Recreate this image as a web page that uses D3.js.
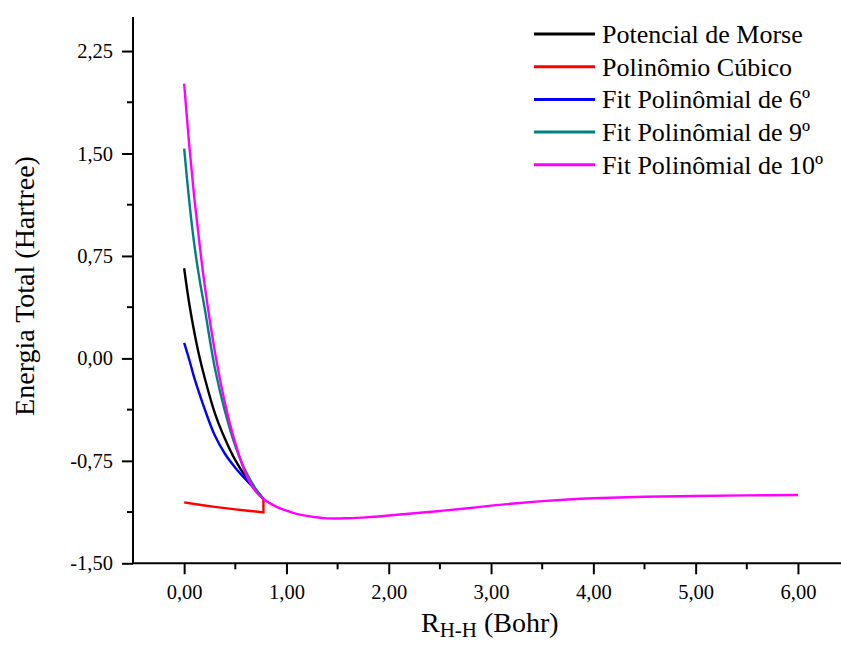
<!DOCTYPE html>
<html>
<head>
<meta charset="utf-8">
<script src="https://cdn.jsdelivr.net/npm/d3@7/dist/d3.min.js"></script>
<style>
  html, body { margin: 0; padding: 0; background: #fff; }
  svg { display: block; }
  text { font-family: "Liberation Serif", "Times New Roman", serif; fill: #000; }
</style>
</head>
<body>
<svg id="chart" width="841" height="646"></svg>
<script>
// Internuclear distance grid (Bohr) for the short-range curves
const rShort = [0, 0.05, 0.1, 0.15, 0.2, 0.3, 0.4, 0.5, 0.6, 0.7, 0.775];

// Potencial de Morse (Hartree)
const morse = [0.66, 0.40, 0.19, 0.01, -0.14, -0.40, -0.59, -0.745, -0.865, -0.96, -1.029];
// Fit polinomial de 6º grau
const fit6 = [0.113, -0.01, -0.145, -0.26, -0.37, -0.565, -0.70, -0.80, -0.885, -0.965, -1.029];
// Fit polinomial de 9º grau
const fit9 = [1.535, 1.15, 0.83, 0.58, 0.37, -0.07, -0.39, -0.64, -0.825, -0.955, -1.029];

// Polinômio cúbico (ends with a jump back to the junction point)
const rCubic = [0, 0.1, 0.2, 0.3, 0.4, 0.5, 0.6, 0.7, 0.775, 0.775];
const cubic = [-1.054, -1.066, -1.077, -1.087, -1.096, -1.105, -1.113, -1.121, -1.127, -1.029];

// Fit polinomial de 10º grau over the full range
const rFull = [0, 0.05, 0.1, 0.15, 0.2, 0.3, 0.4, 0.5, 0.6, 0.7, 0.775, 0.85, 0.9, 1.0, 1.1, 1.2,
               1.4, 1.6, 1.8, 2.0, 2.25, 2.5, 2.75, 3.0, 3.25, 3.5, 3.75, 4.0, 4.5, 5.0, 5.5, 6.0];
const fit10 = [2.011, 1.56, 1.17, 0.84, 0.54, 0.05, -0.33, -0.62, -0.84, -0.975, -1.029, -1.065, -1.085,
               -1.115, -1.138, -1.153, -1.171, -1.170, -1.162, -1.150, -1.134, -1.117, -1.099, -1.078,
               -1.060, -1.045, -1.033, -1.024, -1.013, -1.007, -1.003, -1.0];

const xTicks = [0, 1, 2, 3, 4, 5, 6];
const yTicks = [-1.5, -0.75, 0, 0.75, 1.5, 2.25];
const xTitleMain = "R";
const xTitleSub = "H-H";
const xTitleRest = " (Bohr)";
const yTitle = "Energia Total (Hartree)";

const seriesNames = ["Potencial de Morse", "Polinômio Cúbico", "Fit Polinômial de 6º",
                     "Fit Polinômial de 9º", "Fit Polinômial de 10º"];
const seriesColors = ["#000000", "#ff0000", "#0000ff", "#008080", "#ff00ff"];

const svg = d3.select("#chart");

const x = d3.scaleLinear().domain([-0.5, 6.5]).range([133, 849.1]);
const y = d3.scaleLinear().domain([-1.5, 2.5]).range([563.3, 16.9]);

// Decimal comma and a plain hyphen for negatives
const fmt = v => d3.format(".2f")(v).replace(".", ",").replace("\u2212", "-");

// Curves
const series = [
  { r: rShort, e: morse, color: seriesColors[0] },
  { r: rCubic, e: cubic, color: seriesColors[1], linear: true },
  { r: rShort, e: fit6, color: seriesColors[2] },
  { r: rShort, e: fit9, color: seriesColors[3] },
  { r: rFull, e: fit10, color: seriesColors[4] }
];

const plot = svg.append("g");
series.forEach(s => {
  const pts = s.r.map((r, i) => [r, s.e[i]]);
  const line = d3.line()
    .x(d => x(d[0]))
    .y(d => y(d[1]))
    .curve(s.linear ? d3.curveLinear : d3.curveCatmullRom.alpha(0.5));
  plot.append("path")
    .attr("d", line(pts))
    .attr("fill", "none")
    .attr("stroke", s.color)
    .attr("stroke-width", 2.4)
    .attr("stroke-linejoin", "miter");
});

// Axes
const xAxis = d3.axisBottom(x).tickValues(xTicks).tickFormat(fmt).tickSize(11).tickPadding(10);
const yAxis = d3.axisLeft(y).tickValues(yTicks).tickFormat(fmt).tickSize(11).tickPadding(9);

const gx = svg.append("g").attr("transform", `translate(0,${y(-1.5)})`).call(xAxis);
const gy = svg.append("g").attr("transform", `translate(${x(-0.5)},0)`).call(yAxis);

[gx, gy].forEach(g => {
  g.select(".domain").attr("stroke", "#000").attr("stroke-width", 2);
  g.selectAll(".tick line").attr("stroke", "#000").attr("stroke-width", 2);
  g.selectAll(".tick text")
    .attr("font-family", "Liberation Serif, Times New Roman, serif")
    .attr("font-size", 20.5)
    .attr("fill", "#000");
});
gx.select(".domain").attr("d", `M${x(-0.5)},0H${x(6.5)}`);
gy.select(".domain").attr("d", `M0,${y(-1.5)}V${y(2.5)}`);

// Minor ticks
const xMinor = d3.range(-0.5, 6.51, 0.5).filter(v => !xTicks.includes(v) && v > -0.5);
const yMinor = d3.range(-1.125, 2.5, 0.75);
svg.append("g").selectAll("line").data(xMinor).join("line")
  .attr("x1", d => x(d)).attr("x2", d => x(d))
  .attr("y1", y(-1.5)).attr("y2", y(-1.5) + 6)
  .attr("stroke", "#000").attr("stroke-width", 2);
svg.append("g").selectAll("line").data(yMinor).join("line")
  .attr("x1", x(-0.5)).attr("x2", x(-0.5) - 6)
  .attr("y1", d => y(d)).attr("y2", d => y(d))
  .attr("stroke", "#000").attr("stroke-width", 2);

// Axis titles
svg.append("text")
  .attr("transform", "translate(34,286) rotate(-90)")
  .attr("text-anchor", "middle")
  .attr("font-size", 28)
  .text(yTitle);

const xt = svg.append("text")
  .attr("x", 421).attr("y", 632)
  .attr("font-size", 28);
xt.append("tspan").text(xTitleMain);
xt.append("tspan").attr("font-size", 21).attr("dy", 5).text(xTitleSub);
xt.append("tspan").attr("dy", -5).text(xTitleRest);

// Legend
const legend = svg.append("g");
seriesNames.forEach((name, i) => {
  const ly = 34 + i * 32.7;
  legend.append("line")
    .attr("x1", 534).attr("x2", 595)
    .attr("y1", ly).attr("y2", ly)
    .attr("stroke", seriesColors[i]).attr("stroke-width", 3);
  legend.append("text")
    .attr("x", 602).attr("y", ly + 9)
    .attr("font-size", 26)
    .text(name);
});
</script>
</body>
</html>
